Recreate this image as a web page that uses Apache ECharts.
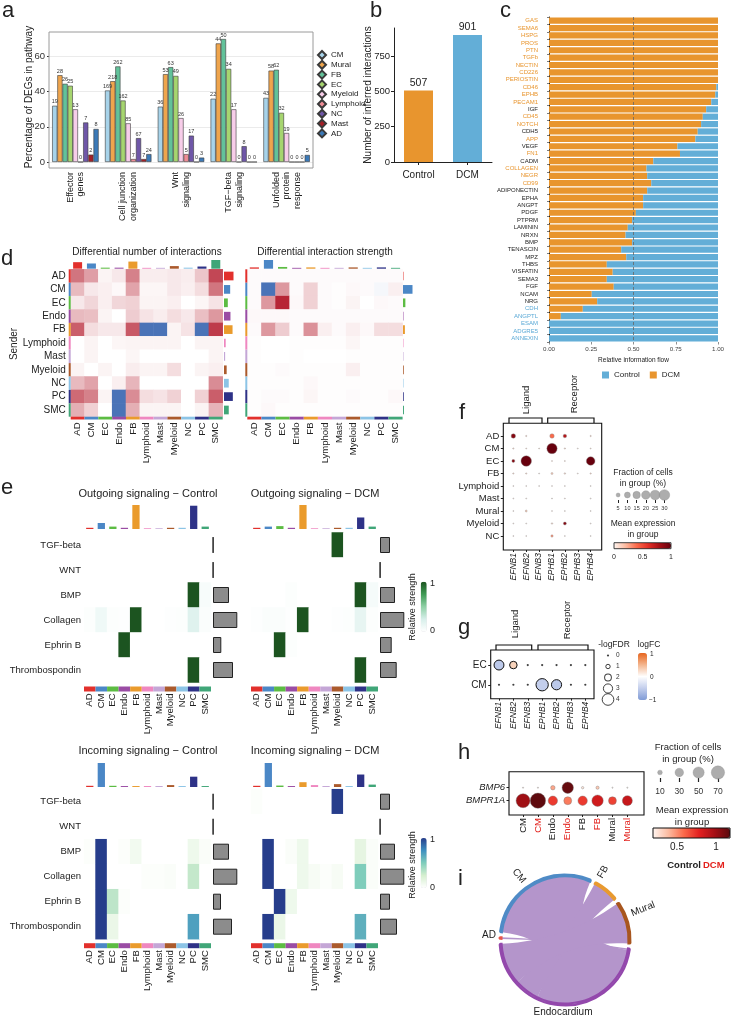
<!DOCTYPE html>
<html><head><meta charset="utf-8">
<script src="https://cdn.jsdelivr.net/npm/echarts@6/dist/echarts.min.js"></script>
<style>html,body{margin:0;padding:0;background:#fff}#c{width:732px;height:1018px}</style>
</head><body><div id="c"></div>
<script>
const FONT = '"Liberation Sans", Arial, Helvetica, sans-serif';
const TXT = '#222';

// ---------- shared cell types ----------
const cellTypes = ['AD','CM','EC','Endo','FB','Lymphoid','Mast','Myeloid','NC','PC','SMC'];
const cellColors = ['#E2302C','#4B87C6','#5CBC43','#9A4CA4','#EA9B2C','#EF87C0','#C4A6D6','#AB5A2C','#8CC4E6','#2E3287','#40A678'];

// ---------- panel a ----------
const aPathways = ['Effector\ngenes','Cell junction\norganization','Wnt\nsignaling','TGF\u2212beta\nsignaling','Unfolded\nprotein\nresponse'];
const aCellTypes = ['CM','Mural','FB','EC','Myeloid','Lymphoid','NC','Mast','AD'];
const aColors = ['#A7D3EA','#EFA54D','#62C29A','#A6D56F','#F7CDE9','#EE8C95','#6F57A8','#A31F27','#3B79B7'];
const aPercent = [
  [32,40.7,31.5,36,36.5],
  [49.4,46,50,67.5,52],
  [44.5,54.4,54,70,52.5],
  [43.4,35,49,53,28],
  [30,22,25,30,16.5],
  [0,1.7,4.5,0,0],
  [22.5,13.6,15,9,0],
  [4.2,1.7,0,0,0],
  [18.8,4.5,2.5,0,4]
];
const aCounts = [
  [19,169,36,22,43],
  [28,218,53,44,58],
  [26,262,63,50,62],
  [25,162,49,34,32],
  [13,85,26,17,19],
  [0,7,5,0,0],
  [7,67,17,8,0],
  [2,7,0,0,0],
  [8,24,3,0,5]
];
const aTicks = [0,20,40,60];

// ---------- panel b ----------
const bGroups = ['Control','DCM'];
const bCounts = [507, 901];
const bColors = ['#E8952E','#63AED7'];
const bTicks = [0,250,500,750];

// ---------- panel c ----------
const cPathways = ['GAS','SEMA6','HSPG','PROS','PTN','TGFb','NECTIN','CD226','PERIOSTIN','CD46','EPHB','PECAM1','IGF','CD45','NOTCH','CDH5','APP','VEGF','FN1','CADM','COLLAGEN','NEGR','CD99','ADIPONECTIN','EPHA','ANGPT','PDGF','PTPRM','LAMININ','NRXN','BMP','TENASCIN','MPZ','THBS','VISFATIN','SEMA3','FGF','NCAM','NRG','CDH','ANGPTL','ESAM','ADGRE5','ANNEXIN'];
const cDCM = [1,1,1,1,1,1,1,1,1,0.99,0.984,0.96,0.93,0.91,0.90,0.88,0.866,0.76,0.775,0.617,0.577,0.581,0.605,0.581,0.557,0.557,0.514,0.492,0.466,0.453,0.492,0.427,0.457,0.342,0.377,0.342,0.383,0.253,0.285,0.2,0.07,0,0,0];
const cControl = [0,0,0,0,0,0,0,0,0,0.01,0.016,0.04,0.07,0.09,0.10,0.12,0.134,0.24,0.225,0.383,0.423,0.419,0.395,0.419,0.443,0.443,0.486,0.508,0.534,0.547,0.508,0.573,0.543,0.658,0.623,0.658,0.617,0.747,0.715,0.8,0.93,1,1,1];
const cGroup = ['D','D','D','D','D','D','D','D','D','D','D','D','S','D','D','S','D','S','D','S','D','D','D','S','S','S','S','S','S','S','S','S','S','S','S','S','S','S','S','C','C','C','C','C'];
const cGroupColor = {D:'#E8952E', S:'#222222', C:'#5AA9D6'};

// ---------- panel d ----------
const dNumber = [
  [0.6,0.42,0.05,0.1,0.55,0.08,0.08,0.1,0.08,0.25,0.8],
  [0.3,0.1,0.07,0.03,0.4,0.04,0.04,0.1,0.07,0.15,0.6],
  [0.1,0.18,0.07,0.18,0.2,0.05,0.05,0.07,0,0.04,0.12],
  [0.3,0.28,0.05,0,0.22,0.12,0.08,0.15,0.1,0.28,0.45],
  [0.7,0.15,0.1,0.1,0.72,-0.92,-0.92,0.05,0.12,-0.92,0.85],
  [0,0.05,0,0.04,0.05,0.05,0.05,0.05,0,0.05,0.05],
  [0,0.05,0,0,0.04,0,0,0,0,0,0.05],
  [0.05,0,0.05,0,0.08,0.05,0.05,0.15,0,0.05,0.07],
  [0.3,0.4,0,0.07,0.32,0,0,0,0,0,0.5],
  [0.65,0.55,0.05,-0.92,0.5,0.15,0.12,0.2,0,0.2,0.7],
  [0.35,0.2,0,-0.92,0.35,0.05,0.05,0.05,0,0.05,0.33]
];
const dNumberTop = [0.75,0.6,0.12,0.12,0.82,0.1,0.1,0.3,0.12,0.25,1];
const dNumberRight = [1.0,0.65,0.4,0.68,0.9,0.18,0.12,0.28,0.5,0.93,0.5];
const dStrength = [
  [0.02,0.02,0.02,0.02,0.02,0.02,0.02,0.02,0.02,0.02,0.02],
  [0.02,-0.92,0.45,0.02,0.2,0.02,0.01,0.03,0.02,-0.05,0.07],
  [0.02,0.45,0.95,0.03,0.2,0.02,0.01,0.05,0,0.03,0.02],
  [0.03,0.03,0.03,0.02,0.02,0.02,0.02,0.02,0.02,0.02,0.02],
  [0.02,0.45,0.22,0.02,0.48,0.07,0.02,0.07,0.03,0.15,0.15],
  [0.01,0,0,0.01,0.01,0.01,0.01,0.04,0.01,0.01,0.01],
  [0.01,0,0,0.01,0,0,0,0.01,0.01,0.01,0.01],
  [0.01,0.01,0.02,0.01,0.01,0.01,0.01,0.07,0.01,0.01,0.01],
  [0.01,0.01,0.01,0.01,0.03,0.01,0.01,0.01,0.01,0.01,0.01],
  [0.01,0.02,0.02,0.01,0.04,0.01,0.01,0.02,0.01,0.01,0.03],
  [0.01,0.03,0.01,0.01,0.01,0.01,0.01,0.01,0.01,0.01,0.01]
];
const dStrengthTop = [0.15,1,0.2,0.1,0.15,0.1,0.1,0.15,0.1,0.15,0.1];
const dStrengthRight = [0.05,1,0.25,0.05,0.2,0.05,0.05,0.08,0.05,0.08,0.1];

// ---------- panel e ----------
const ePathways = ['TGF-beta','WNT','BMP','Collagen','Ephrin B','Thrombospondin'];
const eOutControl = [
  [0,0,0,0,0,0,0,0,0,0,0],
  [0,0,0,0,0,0,0,0,0,0,0],
  [0,0,0,0,0,0,0,0,0,1,0.05],
  [0.02,0.1,0.02,0.01,1,0,0,0.01,0.02,0.2,0.03],
  [0,0,0,1,0,0,0,0,0,0,0],
  [0,0,0,0,0,0,0,0,0,1,0]
];
const eOutDCM = [
  [0,0,0,0,0,0,0,1,0,0,0],
  [0,0,0,0,0,0,0,0,0,0,0],
  [0,0,0,0.02,0,0,0,0,0,1,0.06],
  [0.01,0.03,0.03,0.01,1,0,0,0.01,0.02,0.15,0.02],
  [0,0,1,0.02,0,0,0,0,0,0,0],
  [0,0,0,0,0,0,0,0,0,1,0]
];
const eInControl = [
  [0,0,0,0,0,0,0,0,0,0,0],
  [0,0,0,0,0,0,0,0,0,0,0],
  [0.02,1,0,0.02,0.08,0,0,0,0,0.1,0.03],
  [0,1,0,0,0,0.02,0.02,0.03,0,0.3,0],
  [0,1,0.32,0.02,0,0,0,0,0,0,0],
  [0,1,0.12,0,0,0,0,0,0,0.68,0]
];
const eInDCM = [
  [0.02,0,0,0,0,0,0,1,0,0,0],
  [0,0,0,0,0,0,0,0,0,0,0],
  [0,1,0,0.03,0.1,0,0,0,0,0.15,0.03],
  [0,1,0,0,0.1,0.05,0.02,0.05,0,0.5,0.03],
  [0,0,1,0.1,0,0,0,0,0,0,0],
  [0,1,0.12,0,0,0,0,0,0,0.62,0]
];
const eOutControlTop = [0.05,0.25,0.1,0.05,1,0.03,0.03,0.05,0.05,0.97,0.1];
const eOutDCMTop = [0.05,0.1,0.12,0.05,1,0.03,0.03,0.05,0.05,0.48,0.1];
const eInControlTop = [0.05,1,0.05,0.04,0.04,0.04,0.04,0.08,0.04,0.43,0.04];
const eInDCMTop = [0.05,1,0.06,0.04,0.2,0.08,0.04,0.12,0.04,0.52,0.1];
const eOutControlRight = [0.2,0.2,16,24.3,8.3,20];
const eOutDCMRight = [10,0.2,15,24.3,11.7,16.7];
const eInControlRight = [0.2,0.2,16,24.3,8,19];
const eInDCMRight = [10,0.2,15,24.3,10,17];

// ---------- panel f ----------
const fGenes = ['EFNB1','EFNB2','EFNB3','EPHB1','EPHB2','EPHB3','EPHB4'];
const fCellTypes = ['AD','CM','EC','FB','Lymphoid','Mast','Mural','Myeloid','NC'];
// [gene, cell type, fraction %, mean expression]
const fDots = [
  [0,0,6,0.9],[1,0,0.8,0.1],[3,0,6,0.4],[4,0,4,0.75],[6,0,0.8,0.1],
  [0,1,0.8,0.1],[1,1,0.5,0.1],[2,1,0.3,0.1],[3,1,28,1.0],[4,1,0.8,0.1],[5,1,0.3,0.05],[6,1,0.5,0.1],
  [0,2,3,0.9],[1,2,29,1.0],[3,2,0.5,0.1],[4,2,0.5,0.1],[6,2,20,1.0],
  [0,3,0.8,0.1],[1,3,0.8,0.1],[2,3,0.3,0.05],[3,3,1.5,0.15],[4,3,1,0.1],[5,3,0.3,0.05],[6,3,0.8,0.1],
  [0,4,0.3,0.05],[1,4,0.3,0.05],[2,4,0.3,0.05],[3,4,0.3,0.05],[4,4,0.3,0.05],[6,4,0.3,0.05],
  [0,5,0.3,0.05],[1,5,0.5,0.05],[3,5,0.5,0.05],[4,5,0.3,0.05],[6,5,0.3,0.05],
  [0,6,0.3,0.05],[1,6,1.5,0.15],[3,6,0.3,0.05],[4,6,0.3,0.05],[6,6,0.3,0.05],
  [0,7,0.5,0.05],[1,7,0.3,0.05],[3,7,1,0.1],[4,7,3,0.9],[6,7,0.3,0.05],
  [0,8,0.4,0.05],[1,8,0.4,0.05],[3,8,2,0.3],[4,8,0.4,0.05],[6,8,0.4,0.05]
];
const fSizeLegend = [5,10,15,20,25,30];

// ---------- panel g ----------
const gCellTypes = ['EC','CM'];
// [gene, cell type, logFC, -logFDR]
const gDots = [
  [0,0,-0.55,3.3],[1,0,0.3,2.3],[2,0,0,0],[3,0,0,0],[4,0,0,0],[5,0,0,0],[6,0,0,0],
  [0,1,0,0],[1,1,0,0],[2,1,0,0],[3,1,-0.5,4.3],[4,1,-0.55,3.4],[5,1,0,0],[6,1,0,0]
];
const gSizeLegend = [0,1,2,3,4];

// ---------- panel h ----------
const hGroups = ['CM_Control','CM_DCM','Endo_Control','Endo_DCM','FB_Control','FB_DCM','Mural_Control','Mural_DCM'];
const hGenes = ['BMP6','BMPR1A'];
// [group, gene, fraction %, mean expression]
const hDots = [
  [0,0,1,0.25],[1,0,1,0.25],[2,0,9,0.45],[3,0,52,1.15],[4,0,3,0.25],[5,0,5,0.35],[6,0,1,0.22],[7,0,1,0.22],
  [0,1,77,1.0],[1,1,92,1.17],[2,1,36,0.72],[3,1,26,0.55],[4,1,36,0.72],[5,1,52,0.85],[6,1,26,0.7],[7,1,41,0.88]
];
const hSizeLegend = [10,30,50,70];

// ---------- panel i ----------
const iNodes = ['AD','CM','FB','Mural','Endocardium'];
const iColors = ['#E8574B','#4F8BC6','#E89A30','#A8561F','#B495CB'];
const iArcBorder = ['#E8574B','#4F8BC6','#E89A30','#A8561F','#9348AC'];
const iLinks = [
  {source:'AD', target:'Endocardium', value:1.5},
  {source:'CM', target:'Endocardium', value:112},
  {source:'FB', target:'Endocardium', value:24},
  {source:'Mural', target:'Endocardium', value:40}
];

// =============== building ===============
const grid=[], xAxis=[], yAxis=[], series=[], visualMap=[], graphic=[], legend=[];
function panel(l,t,w,h,xa,ya){
  const gi=grid.length;
  grid.push({left:l,top:t,width:w,height:h,outerBoundsMode:'none',containLabel:false});
  xAxis.push(Object.assign({gridIndex:gi},xa));
  yAxis.push(Object.assign({gridIndex:gi},ya));
  return gi;
}
function txt(x,y,text,o){
  o=o||{};
  graphic.push({type:'text',x,y,rotation:o.rot||0,z:100,silent:true,
    style:{text,fontFamily:FONT,fontSize:o.fs||10,fill:o.fill||TXT,fontWeight:o.fw||'normal',fontStyle:o.fst||'normal',
      align:o.align||'center',verticalAlign:'middle'}});
}
function rect(x,y,w,h,stroke,lw){
  graphic.push({type:'rect',z:100,silent:true,shape:{x,y,width:w,height:h},style:{fill:'none',stroke:stroke||'#000',lineWidth:lw||1}});
}
function poly(points){
  graphic.push({type:'polyline',z:100,silent:true,shape:{points},style:{stroke:'#111',lineWidth:1.2,fill:'none'}});
}
const hid = (data,inv)=>({type:'category',data,show:false,inverse:!!inv});
const hidV = (min,max)=>({type:'value',min,max,show:false});

// ---------- a ----------
const gA = panel(49,32,264,130,
  {type:'category',data:aPathways,axisLine:{show:false},axisTick:{show:false},
   axisLabel:{interval:0,rotate:90,fontSize:9,lineHeight:10.5,margin:10,color:TXT,fontFamily:FONT}},
  {type:'value',min:0,max:74,axisLine:{show:false},
   axisTick:{show:true,length:2,customValues:aTicks,lineStyle:{color:'#333'}},
   axisLabel:{fontSize:9.5,color:'#333',margin:4,customValues:aTicks,fontFamily:FONT},
   splitLine:{show:true,lineStyle:{color:'#e6e6e6',width:0.8}},
   name:'Percentage of DEGs in pathway',nameLocation:'middle',nameGap:15,nameMoveOverlap:false,
   nameTextStyle:{fontSize:10,color:TXT,fontFamily:FONT}});
aCellTypes.forEach((ct,i)=>{
  series.push({type:'bar',name:ct,xAxisIndex:gA,yAxisIndex:gA,data:aPercent[i],barGap:'0%',barCategoryGap:'12%',
    itemStyle:{color:aColors[i],borderColor:'#3a3a3a',borderWidth:0.6},
    label:{show:true,position:'top',distance:1,fontSize:5.5,color:'#333',fontFamily:FONT,
      formatter:p=>String(aCounts[i][p.dataIndex])}});
});
legend.push({data:aCellTypes,orient:'vertical',left:317,top:50,icon:'diamond',itemWidth:8,itemHeight:8,itemGap:-0.2,
  selectedMode:false,padding:0,textStyle:{fontSize:8,color:TXT,fontFamily:FONT}});
rect(49,32,264,136,'#9a9a9a',1);

// ---------- b ----------
const gB = panel(394,28,98,134,
  {type:'category',data:bGroups,axisLine:{show:true,lineStyle:{color:'#222',width:1}},
   axisTick:{show:true,alignWithLabel:true,length:3,lineStyle:{color:'#222'}},
   axisLabel:{fontSize:10,color:TXT,margin:8,fontFamily:FONT}},
  {type:'value',min:0,max:950,axisLine:{show:true,lineStyle:{color:'#222',width:1}},
   axisTick:{show:true,length:3,customValues:bTicks,lineStyle:{color:'#222'}},
   axisLabel:{fontSize:9.5,color:TXT,margin:4,customValues:bTicks,fontFamily:FONT},splitLine:{show:false},
   name:'Number of inferred interactions',nameLocation:'middle',nameGap:21,nameMoveOverlap:false,
   nameTextStyle:{fontSize:10,color:TXT,fontFamily:FONT}});
series.push({type:'bar',name:'inferred',xAxisIndex:gB,yAxisIndex:gB,barWidth:29,
  data:bCounts.map((v,i)=>({value:v,itemStyle:{color:bColors[i]}})),
  label:{show:true,position:'top',distance:2,fontSize:10.5,color:TXT,fontFamily:FONT}});

// ---------- c ----------
const gC = panel(549,17,169,325,
  {type:'value',min:0,max:1,interval:0.25,axisLine:{show:false},
   axisTick:{show:true,length:2.5,lineStyle:{color:'#444',width:0.6}},
   axisLabel:{fontSize:6.2,color:'#444',margin:4,formatter:v=>v.toFixed(2),fontFamily:FONT},splitLine:{show:false},
   name:'Relative information flow',nameLocation:'middle',nameGap:15,nameMoveOverlap:false,
   nameTextStyle:{fontSize:6.5,color:TXT,fontFamily:FONT}},
  {type:'category',data:cPathways,inverse:true,offset:8,axisLine:{show:true,lineStyle:{color:'#222',width:1}},
   axisTick:{show:true,length:2,lineStyle:{color:'#222',width:0.6}},
   axisLabel:{interval:0,fontSize:6,margin:3,fontFamily:FONT,
     color:(v)=>cGroupColor[cGroup[cPathways.indexOf(v)]]}});
series.push({type:'bar',name:'DCM',stack:'c',xAxisIndex:gC,yAxisIndex:gC,data:cDCM,barWidth:'84%',itemStyle:{color:'#E8952E'}});
series.push({type:'bar',name:'Control',stack:'c',xAxisIndex:gC,yAxisIndex:gC,data:cControl,barWidth:'84%',itemStyle:{color:'#63AED7'},
  markLine:{silent:true,symbol:'none',label:{show:false},lineStyle:{type:[3,2],color:'#666',width:0.8},data:[{xAxis:0.5}]}});
legend.push({data:['Control','DCM'],left:602,top:371,icon:'rect',itemWidth:7,itemHeight:7,itemGap:10,selectedMode:false,padding:0,
  textStyle:{fontSize:8,color:TXT,fontFamily:FONT}});

// ---------- d ----------
function dHeat(left,width,mat,topVals,rightVals,rightLeft,showRows){
  const top=269.3, height=147.4;
  const gi = panel(left,top,width,height, hid(cellTypes),
    {type:'category',data:cellTypes,inverse:true,axisLine:{show:false},axisTick:{show:false},
     axisLabel:{show:showRows,interval:0,fontSize:10,margin:5,color:TXT,fontFamily:FONT}});
  const data=[]; mat.forEach((row,r)=>row.forEach((v,c)=>data.push([c,r,v])));
  series.push({type:'heatmap',xAxisIndex:gi,yAxisIndex:gi,data,itemStyle:{borderWidth:0}});
  const si=series.length-1;
  const gt = panel(left,260,width,8.7,hid(cellTypes),hidV(0,1));
  series.push({type:'bar',xAxisIndex:gt,yAxisIndex:gt,barWidth:'65%',data:topVals.map((v,i)=>({value:v,itemStyle:{color:cellColors[i]}}))});
  const gr = panel(rightLeft,top,9.5,height,hidV(0,1),hid(cellTypes,true));
  series.push({type:'bar',xAxisIndex:gr,yAxisIndex:gr,barWidth:'65%',data:rightVals.map((v,i)=>({value:v,itemStyle:{color:cellColors[i]}}))});
  const gb = panel(left,416.7,width,2.8,
    {type:'category',data:cellTypes,axisLine:{show:false},axisTick:{show:false},
     axisLabel:{interval:0,rotate:90,fontSize:9.5,margin:3,color:TXT,fontFamily:FONT}},hidV(0,1));
  series.push({type:'bar',xAxisIndex:gb,yAxisIndex:gb,barWidth:'100%',data:cellTypes.map((c,i)=>({value:1,itemStyle:{color:cellColors[i]}}))});
  const gl = panel(left-2,top,2,height,hidV(0,1),hid(cellTypes,true));
  series.push({type:'bar',xAxisIndex:gl,yAxisIndex:gl,barWidth:'100%',data:cellTypes.map((c,i)=>({value:1,itemStyle:{color:cellColors[i]}}))});
  return si;
}
const sD1 = dHeat(70.7,152,dNumber,dNumberTop,dNumberRight,224,true);
const sD2 = dHeat(247.3,155.3,dStrength,dStrengthTop,dStrengthRight,403,false);
visualMap.push({type:'continuous',show:false,seriesIndex:[sD1,sD2],dimension:2,min:-1,max:1,
  inRange:{color:['#3A67B1','#FFFFFF','#B3192A']}});
txt(147,252.7,'Differential number of interactions',{fs:10});
txt(325,252.7,'Differential interaction strength',{fs:10});
txt(14.5,344,'Sender',{fs:10,rot:Math.PI/2});

// ---------- e ----------
function eHeat(left,topBarTop,heatTop,mat,topVals,rightVals,showRows){
  const width=127, height=150;
  const gi = panel(left,heatTop,width,height,hid(cellTypes),
    {type:'category',data:ePathways,inverse:true,axisLine:{show:false},axisTick:{show:false},
     axisLabel:{show:showRows,interval:0,fontSize:9.5,margin:3,color:TXT,fontFamily:FONT}});
  const data=[]; mat.forEach((row,r)=>row.forEach((v,c)=>data.push([c,r,v])));
  series.push({type:'heatmap',xAxisIndex:gi,yAxisIndex:gi,data,itemStyle:{borderWidth:0}});
  const si=series.length-1;
  const gt = panel(left,topBarTop,width,24,hid(cellTypes),hidV(0,1));
  series.push({type:'bar',xAxisIndex:gt,yAxisIndex:gt,barWidth:'63%',data:topVals.map((v,i)=>({value:v,itemStyle:{color:cellColors[i]}}))});
  const gr = panel(left+width+2,heatTop,25,height,hidV(0,25),hid(ePathways,true));
  series.push({type:'bar',xAxisIndex:gr,yAxisIndex:gr,barWidth:'64%',data:rightVals,
    itemStyle:{color:'#8C8C8C',borderColor:'#222',borderWidth:1}});
  const gb = panel(left,heatTop+height+4,width,5,
    {type:'category',data:cellTypes,axisLine:{show:false},axisTick:{show:false},
     axisLabel:{interval:0,rotate:90,fontSize:9.5,margin:2,color:TXT,fontFamily:FONT}},hidV(0,1));
  series.push({type:'bar',xAxisIndex:gb,yAxisIndex:gb,barWidth:'100%',data:cellTypes.map((c,i)=>({value:1,itemStyle:{color:cellColors[i]}}))});
  return si;
}
const sO1 = eHeat(84,505,532.5,eOutControl,eOutControlTop,eOutControlRight,true);
const sO2 = eHeat(251,505,532.5,eOutDCM,eOutDCMTop,eOutDCMRight,false);
const sI1 = eHeat(84,763,789.2,eInControl,eInControlTop,eInControlRight,true);
const sI2 = eHeat(251,763,789.2,eInDCM,eInDCMTop,eInDCMRight,false);
visualMap.push({type:'continuous',show:true,seriesIndex:[sO1,sO2],dimension:2,min:0,max:1,orient:'vertical',
  left:420.7,top:581.7,itemWidth:6,itemHeight:50,calculable:false,padding:0,hoverLink:false,
  inRange:{color:['#FFFFFF','#D7EFEA','#8FD0A6','#3E9A54','#1C5420']}});
visualMap.push({type:'continuous',show:true,seriesIndex:[sI1,sI2],dimension:2,min:0,max:1,orient:'vertical',
  left:420.7,top:838,itemWidth:6,itemHeight:50,calculable:false,padding:0,hoverLink:false,
  inRange:{color:['#FFFFFF','#D5EFCF','#7FCDBB','#3D8FC0','#263D8B']}});
txt(148,494,'Outgoing signaling \u2212 Control',{fs:11});
txt(315,494,'Outgoing signaling \u2212 DCM',{fs:11});
txt(148,750.7,'Incoming signaling \u2212 Control',{fs:11});
txt(315,750.7,'Incoming signaling \u2212 DCM',{fs:11});
txt(413,607,'Relative strength',{fs:9,rot:Math.PI/2});
txt(413,865,'Relative strength',{fs:9,rot:Math.PI/2});
txt(430,584,'1',{fs:9,align:'left'}); txt(430,631,'0',{fs:9,align:'left'});
txt(430,840,'1',{fs:9,align:'left'}); txt(430,888,'0',{fs:9,align:'left'});

// ---------- f ----------
const fSize = f => Math.max(1, 2.07*Math.sqrt(f)-0.6);
const gF = panel(506.9,429.75,90.2,112.5,
  {type:'category',data:fGenes,offset:7.75,axisLine:{show:false},
   axisTick:{show:true,alignWithLabel:true,length:2,lineStyle:{color:'#222'}},
   axisLabel:{interval:0,rotate:90,fontSize:8.5,fontStyle:'italic',margin:3,color:TXT,fontFamily:FONT}},
  {type:'category',data:fCellTypes,inverse:true,offset:3.6,axisLine:{show:false},
   axisTick:{show:true,alignWithLabel:true,length:2.5,lineStyle:{color:'#222'}},
   axisLabel:{interval:0,fontSize:9.5,margin:4,color:TXT,fontFamily:FONT}});
series.push({type:'scatter',xAxisIndex:gF,yAxisIndex:gF,data:fDots,symbolSize:d=>fSize(d[2]),
  itemStyle:{borderColor:'#8a8a8a',borderWidth:0.4,opacity:1}});
const sF = series.length-1;
visualMap.push({type:'continuous',show:true,seriesIndex:sF,dimension:3,min:0,max:1,orient:'horizontal',
  left:614,top:542.7,itemWidth:6,itemHeight:57,calculable:false,padding:0,hoverLink:false,
  inRange:{color:['#FFF5F0','#FCBBA1','#FB6A4A','#E32F27','#A50F15','#67000D']}});
rect(503.3,423.3,98.4,126.7,'#111',1.1);
rect(614,542.7,57,6,'#111',0.8);
const gFs = panel(613.5,490,55.5,10,
  {type:'category',data:fSizeLegend.map(String),axisLine:{show:false},
   axisTick:{show:true,alignWithLabel:true,length:3,lineStyle:{color:'#222'}},
   axisLabel:{interval:0,fontSize:5.5,margin:5,color:'#333',fontFamily:FONT}},hid(['']));
series.push({type:'scatter',xAxisIndex:gFs,yAxisIndex:gFs,data:fSizeLegend.map((v,i)=>({value:[i,0],symbolSize:fSize(v)})),
  itemStyle:{color:'#999',borderColor:'#888',borderWidth:0.4}});
txt(643,473,'Fraction of cells',{fs:8.5}); txt(643,484,'in group (%)',{fs:8.5});
txt(643,524,'Mean expression',{fs:8.5}); txt(643,534.5,'in group',{fs:8.5});
txt(614,557,'0',{fs:7}); txt(642.5,557,'0.5',{fs:7}); txt(671,557,'1',{fs:7});
poly([[509,423],[509,418],[542,418],[542,423]]);
poly([[547.7,423],[547.7,418],[594,418],[594,423]]);
txt(526,400,'Ligand',{fs:9.5,rot:Math.PI/2});
txt(574,394,'Receptor',{fs:9.5,rot:Math.PI/2});

// ---------- g ----------
const gSize = v => v===0 ? 2.2 : 2 + 2.4*v;
const gG = panel(491.8,655.2,100.7,39.4,
  {type:'category',data:fGenes,offset:4.1,axisLine:{show:false},
   axisTick:{show:true,alignWithLabel:true,length:2,lineStyle:{color:'#222'}},
   axisLabel:{interval:0,rotate:90,fontSize:8.5,fontStyle:'italic',margin:3,color:TXT,fontFamily:FONT}},
  {type:'category',data:gCellTypes,inverse:true,offset:1.1,axisLine:{show:false},
   axisTick:{show:true,alignWithLabel:true,length:2.5,lineStyle:{color:'#222'}},
   axisLabel:{interval:0,fontSize:10,margin:4,color:TXT,fontFamily:FONT}});
series.push({type:'scatter',xAxisIndex:gG,yAxisIndex:gG,data:gDots.filter(d=>d[3]>0),symbolSize:d=>gSize(d[3]),
  itemStyle:{borderColor:'#111',borderWidth:1,opacity:1}});
const sG = series.length-1;
series.push({type:'scatter',xAxisIndex:gG,yAxisIndex:gG,data:gDots.filter(d=>d[3]===0),symbolSize:d=>gSize(d[3]),
  itemStyle:{color:'#111'}});
visualMap.push({type:'continuous',show:true,seriesIndex:sG,dimension:2,min:-1,max:1,orient:'vertical',
  left:638,top:653,itemWidth:9,itemHeight:47,calculable:false,padding:0,hoverLink:false,
  inRange:{color:['#7F9BD6','#C3CEEC','#FFFFFF','#F3B58E','#E8651D']}});
rect(490.7,650,103.3,48.7,'#111',1.1);
const gGs = panel(603,650,10,55,hid(['']),
  {type:'category',data:gSizeLegend.map(String),inverse:true,position:'right',axisLine:{show:false},axisTick:{show:false},
   axisLabel:{interval:0,fontSize:6.5,margin:3,color:'#333',fontFamily:FONT}});
series.push({type:'scatter',xAxisIndex:gGs,yAxisIndex:gGs,
  data:gSizeLegend.map((v,i)=>({value:[0,i],symbolSize:gSize(v),itemStyle:v===0?{color:'#111'}:{color:'#fff',borderColor:'#111',borderWidth:1}}))});
txt(614,645,'-logFDR',{fs:8.5}); txt(649,645,'logFC',{fs:8.5});
txt(650,654,'1',{fs:6.5,align:'left'}); txt(650,677,'0',{fs:6.5,align:'left'}); txt(649,700,'\u22121',{fs:6.5,align:'left'});
poly([[496,650],[496,645],[531.7,645],[531.7,650]]);
poly([[538,650],[538,645],[588,645],[588,650]]);
txt(515,624,'Ligand',{fs:9.5,rot:Math.PI/2});
txt(567,620,'Receptor',{fs:9.5,rot:Math.PI/2});

// ---------- h ----------
const hSize = f => Math.max(1, 1.65*Math.sqrt(f)-0.5);
const gH = panel(515.6,781.2,119.2,26,
  {type:'category',data:hGroups,offset:7.8,axisLine:{show:false},
   axisTick:{show:true,alignWithLabel:true,length:2,lineStyle:{color:'#222'}},
   axisLabel:{interval:0,rotate:90,fontSize:9.5,margin:3,fontFamily:FONT,
     formatter:v=>v.split('_')[0],color:v=>v.endsWith('_DCM')?'#E3211C':'#222'}},
  {type:'category',data:hGenes,inverse:true,offset:6.6,axisLine:{show:false},
   axisTick:{show:true,alignWithLabel:true,length:2.5,lineStyle:{color:'#222'}},
   axisLabel:{interval:0,fontSize:9.5,fontStyle:'italic',margin:4,color:TXT,fontFamily:FONT}});
series.push({type:'scatter',xAxisIndex:gH,yAxisIndex:gH,data:hDots,symbolSize:d=>hSize(d[2]),
  itemStyle:{borderColor:'#777',borderWidth:0.4,opacity:1}});
const sH = series.length-1;
visualMap.push({type:'continuous',show:true,seriesIndex:sH,dimension:3,min:0.2,max:1.18,orient:'horizontal',
  left:653,top:828,itemWidth:10,itemHeight:77,calculable:false,padding:0,hoverLink:false,
  inRange:{color:['#FFF5F0','#FCBBA1','#FB6A4A','#E32020','#A50F15','#5A0A0E']}});
rect(509,771.7,135,43.3,'#111',1.1);
rect(653,828,77,10,'#111',1);
const gHs = panel(650.3,767,77.3,11,
  {type:'category',data:hSizeLegend.map(String),axisLine:{show:false},
   axisTick:{show:true,alignWithLabel:true,length:4,lineStyle:{color:'#222',width:1.2}},
   axisLabel:{interval:0,fontSize:8.5,margin:9,color:'#333',fontFamily:FONT}},hid(['']));
series.push({type:'scatter',xAxisIndex:gHs,yAxisIndex:gHs,data:hSizeLegend.map((v,i)=>({value:[i,0],symbolSize:hSize(v)})),
  itemStyle:{color:'#999',borderColor:'#888',borderWidth:0.4}});
txt(688,747,'Fraction of cells',{fs:9.5}); txt(688,759,'in group (%)',{fs:9.5});
txt(692,810,'Mean expression',{fs:9.5}); txt(692,822,'in group',{fs:9.5});
txt(677,847,'0.5',{fs:10}); txt(716,847,'1',{fs:10});
txt(701,865,'Control',{fs:9.5,fw:'bold',align:'right'}); txt(703,865,'DCM',{fs:9.5,fw:'bold',align:'left',fill:'#E3211C'});

// ---------- i ----------
series.push({type:'chord',center:[565,940],radius:[63.5,65.5],startAngle:179,clockwise:true,padAngle:4.4,minAngle:1.5,
  silent:true,label:{show:false},
  lineStyle:{color:'target',opacity:1},
  data:iNodes.map((n,i)=>({name:n,itemStyle:{color:iColors[i],borderColor:iArcBorder[i],borderWidth:2}})),
  links:iLinks});
txt(519,876,'CM',{fs:10,rot:-0.87});
txt(603,872,'FB',{fs:10,rot:1.05});
txt(643,909,'Mural',{fs:10,rot:0.38});
txt(489,935,'AD',{fs:10});
txt(563,1012,'Endocardium',{fs:10});

// ---------- panel letters ----------
[['a',2,11],['b',370,11],['c',500,11],['d',1,259],['e',1,488],['f',459,413],['g',458,628],['h',458,753],['i',458,879]]
  .forEach(([l,x,y])=>txt(x,y,l,{fs:22,align:'left'}));

const chart = echarts.init(document.getElementById('c'),null,{renderer:'canvas',width:732,height:1018});
chart.setOption({animation:false,backgroundColor:'#fff',textStyle:{fontFamily:FONT},
  grid,xAxis,yAxis,series,visualMap,graphic,legend,tooltip:{show:false}});
</script></body></html>
